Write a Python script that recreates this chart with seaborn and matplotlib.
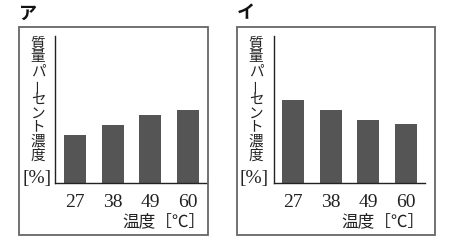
import matplotlib
matplotlib.use("Agg")
import matplotlib.pyplot as plt
import seaborn as sns
import pandas as pd
from matplotlib.patches import Rectangle

sns.set_style("white")
plt.rcParams['font.family'] = ['Noto Sans CJK JP', 'DejaVu Sans']

temps = ["27", "38", "49", "60"]
conc_a = [48, 58, 68, 73]
conc_i = [83, 73, 63, 59]
panel_labels = ["ア", "イ"]
ylabel_chars = ["質", "量", "パ", "ー", "セ", "ン", "ト", "濃", "度"]
ylabel_unit = "[%]"
xlabel = "温度［℃］"

W, H = 450, 251
fig = plt.figure(figsize=(W / 100, H / 100), dpi=100)
fig.patch.set_facecolor("white")

def fx(px):
    return px / W

def fy(py):
    return 1 - py / H

bar_color = "#555555"
serif = ["Liberation Serif", "DejaVu Serif"]
panels = [
    dict(vals=conc_a, label=panel_labels[0], ax_l=55, ax_r=207, xlim=(-0.53, 3.5),
         box=(19, 28, 208, 236), lab_x=28, ycol=38, unit_x=37, xl_x=164),
    dict(vals=conc_i, label=panel_labels[1], ax_l=274, ax_r=425, xlim=(-0.5, 3.5),
         box=(237, 28, 435, 236), lab_x=246, ycol=256, unit_x=254, xl_x=383),
]

for p in panels:
    ax = fig.add_axes([fx(p["ax_l"]), fy(184), fx(p["ax_r"] - p["ax_l"]), (184 - 37) / H])
    df = pd.DataFrame({"temp": temps, "conc": p["vals"]})
    sns.barplot(data=df, x="temp", y="conc", color=bar_color, saturation=1,
                width=0.58, ax=ax, edgecolor="none")
    ax.set_xlim(*p["xlim"])
    ax.set_ylim(0, 147)
    ax.set_facecolor("none")
    for s in ["top", "right"]:
        ax.spines[s].set_visible(False)
    for s in ["left", "bottom"]:
        ax.spines[s].set_color("#222222")
        ax.spines[s].set_linewidth(1.0)
    ax.set_yticks([])
    ax.set_xlabel("")
    ax.set_ylabel("")
    ax.set_xticks(range(len(temps)), temps, fontfamily=serif, fontsize=14,
                  color="#222222")
    ax.tick_params(axis="x", direction="inout", length=7, width=0.9, color="#222222",
                   pad=3.5)

    x0, y0, x1, y1 = p["box"]
    fig.patches.append(Rectangle((fx(x0), fy(y1)), fx(x1 - x0), (y1 - y0) / H,
                                 transform=fig.transFigure, fill=False,
                                 edgecolor="#666666", linewidth=1.3))
    fig.text(fx(p["lab_x"]), fy(13), p["label"], fontsize=13, fontweight="bold",
             ha="center", va="center", color="#111111")
    for i, ch in enumerate(ylabel_chars):
        rot = 90 if ch == "ー" else 0
        fig.text(fx(p["ycol"]), fy(43.5 + 14 * i), ch, fontsize=10.5, ha="center",
                 va="center", rotation=rot, color="#222222")
    fig.text(fx(p["unit_x"]), fy(178), ylabel_unit, fontsize=14, ha="center",
             va="center", color="#222222", family=serif)
    fig.text(fx(p["xl_x"]), fy(222), xlabel, fontsize=12, ha="center",
             va="center", color="#222222")

fig.savefig("out.png", dpi=100, facecolor="white")
